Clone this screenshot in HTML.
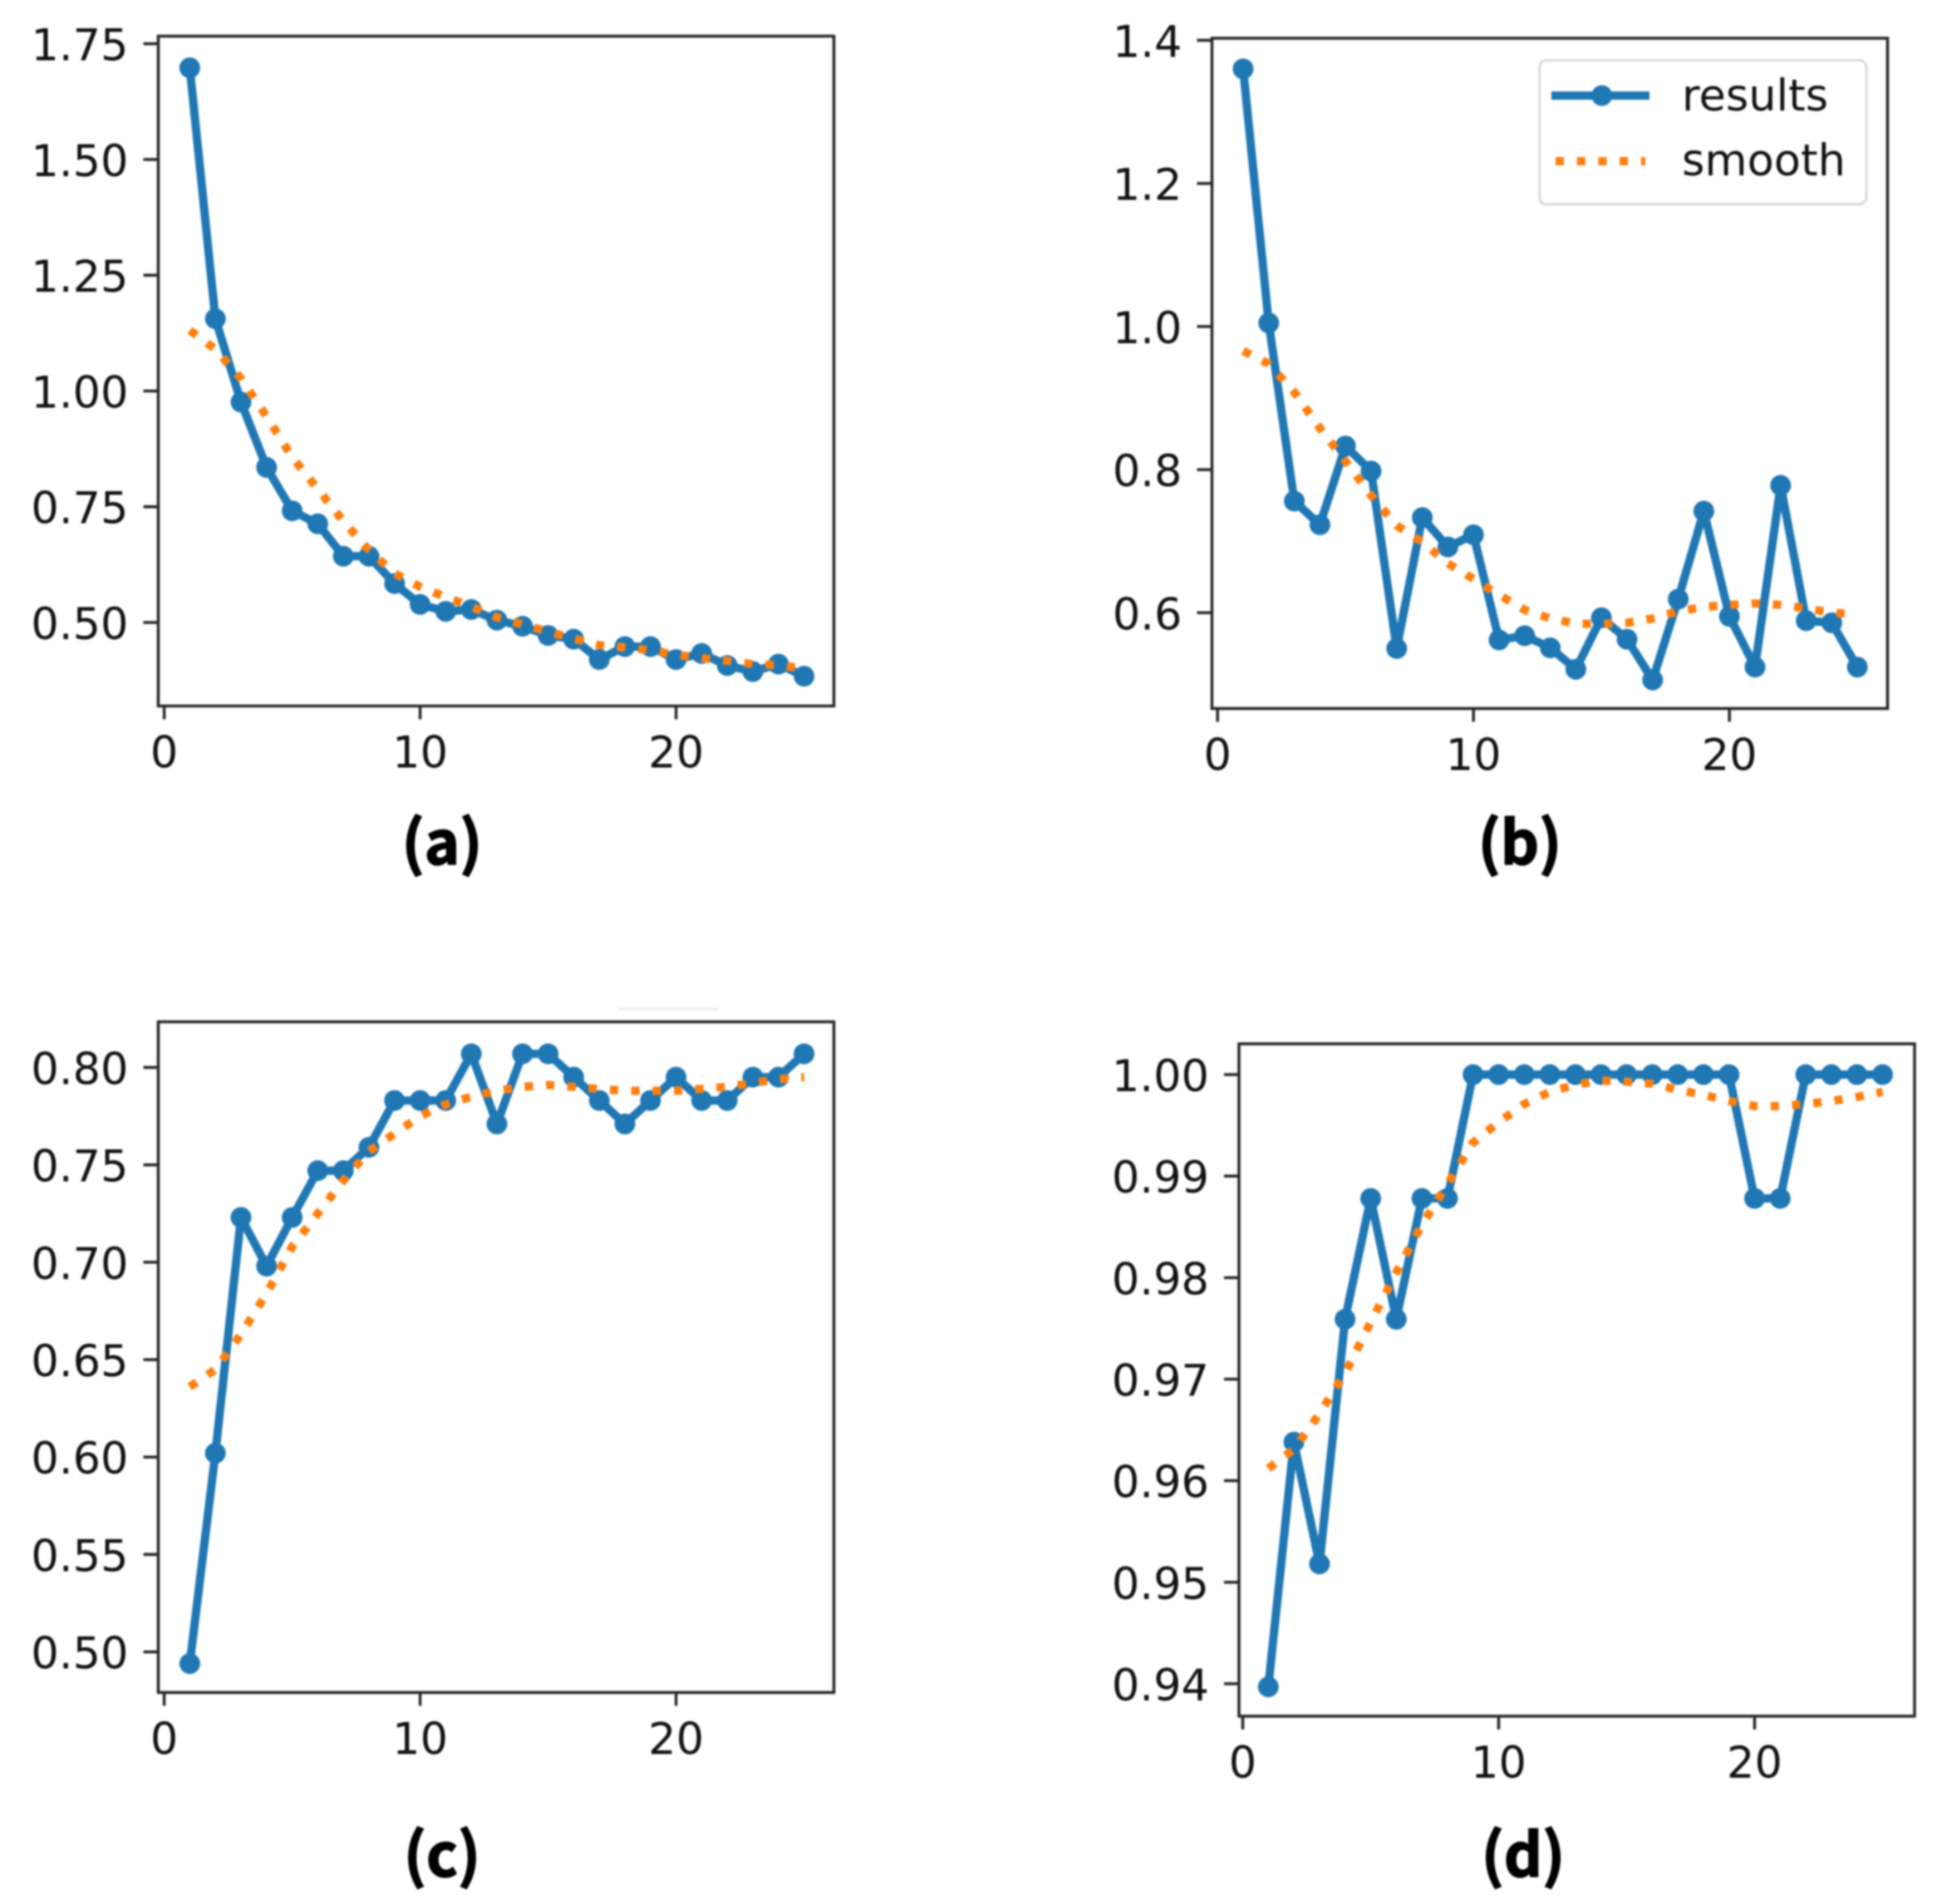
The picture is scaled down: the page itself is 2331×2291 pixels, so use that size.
<!DOCTYPE html>
<html><head><meta charset="utf-8"><title>Four training curves</title>
<style>
html,body{margin:0;padding:0;background:#fff;width:2331px;height:2291px;overflow:hidden}
svg{display:block;filter:blur(1px)}
.tick{font:52.6px "DejaVu Sans",sans-serif;fill:#111}
.cap{font:700 72px "Noto Sans CJK JP","Liberation Sans",sans-serif;fill:#000;stroke:#000;stroke-width:1.6px;text-anchor:middle}
</style></head>
<body>
<svg id="fig" xmlns="http://www.w3.org/2000/svg" width="2331" height="2291" viewBox="0 0 2331 2291">
<rect x="745" y="1213" width="120" height="2" fill="#e4e4e4"/>
</svg>
<script>
const epochs = [1,2,3,4,5,6,7,8,9,10,11,12,13,14,15,16,17,18,19,20,21,22,23,24,25];
const xTickValues = [0,10,20];

const resultsA = [1.698,1.156,0.976,0.835,0.741,0.713,0.643,0.643,0.584,0.539,0.524,0.528,0.505,0.492,0.472,0.464,0.42,0.448,0.448,0.42,0.433,0.407,0.394,0.41,0.384];
const smoothA = [1.131,1.09,1.027,0.945,0.857,0.788,0.719,0.656,0.606,0.577,0.555,0.534,0.511,0.496,0.48,0.465,0.451,0.446,0.44,0.43,0.423,0.417,0.41,0.408,0.40];
const yTicksA = ["0.50","0.75","1.00","1.25","1.50","1.75"];

const resultsB = [1.36,1.005,0.756,0.723,0.833,0.798,0.55,0.733,0.692,0.709,0.562,0.568,0.551,0.521,0.593,0.563,0.506,0.619,0.742,0.595,0.524,0.778,0.589,0.586,0.524];
const smoothB = [0.966,0.948,0.908,0.858,0.812,0.764,0.722,0.699,0.669,0.647,0.625,0.604,0.592,0.585,0.584,0.586,0.592,0.602,0.608,0.611,0.613,0.611,0.606,0.60,0.598];
const yTicksB = ["0.6","0.8","1.0","1.2","1.4"];

const resultsC = [0.494,0.602,0.723,0.698,0.723,0.747,0.747,0.759,0.783,0.783,0.783,0.807,0.771,0.807,0.807,0.795,0.783,0.771,0.783,0.795,0.783,0.783,0.795,0.795,0.807];
const smoothC = [0.636,0.645,0.663,0.684,0.708,0.725,0.742,0.757,0.766,0.775,0.781,0.785,0.788,0.790,0.791,0.790,0.789,0.788,0.788,0.788,0.789,0.790,0.792,0.794,0.795];
const yTicksC = ["0.50","0.55","0.60","0.65","0.70","0.75","0.80"];

const resultsD = [0.9397,0.9638,0.9518,0.9759,0.9878,0.9759,0.9878,0.9878,1,1,1,1,1,1,1,1,1,1,1,0.9878,0.9878,1,1,1,1];
const smoothD = [0.9612,0.9631,0.9666,0.9706,0.9756,0.9805,0.9852,0.9892,0.9933,0.9953,0.9971,0.9983,0.9990,0.9994,0.9993,0.9991,0.9985,0.998,0.9974,0.9969,0.9969,0.9971,0.9974,0.9978,0.9983];
const yTicksD = ["0.94","0.95","0.96","0.97","0.98","0.99","1.00"];

const NS = 'http://www.w3.org/2000/svg';
const fig = document.getElementById('fig');
const BLUE = '#1f77b4', ORANGE = '#ff7f0e', FRAME = '#262626';
const LINE_W = 10, MARK_R = 12.5, DOT_W = 10, DOT_DASH = '10 15.7';

function make(tag, props, parent) {
  const el = document.createElementNS(NS, tag);
  for (const k in props) el.setAttribute(k, props[k]);
  (parent || fig).appendChild(el);
  return el;
}

function drawPanel(cfg) {
  const xScale = v => cfg.x0 + (v - 0) * (cfg.x20 - cfg.x0) / 20;
  const yLowVal = parseFloat(cfg.yTicks[0]);
  const yHighVal = parseFloat(cfg.yTicks[cfg.yTicks.length - 1]);
  const yScale = v => cfg.yLow + (v - yLowVal) * (cfg.yHigh - cfg.yLow) / (yHighVal - yLowVal);

  const g = make('g', {});
  
  

  const pts = (vals) => vals.map((v, i) => xScale(epochs[i]).toFixed(1) + ',' + yScale(v).toFixed(1)).join(' ');

  const line = make('polyline', {points: pts(cfg.results), fill: 'none', stroke: BLUE, 'stroke-width': LINE_W, 'stroke-linejoin': 'round'}, g);
  
  

  cfg.results.forEach((v, i) => {
    const c = make('circle', {cx: xScale(epochs[i]).toFixed(1), cy: yScale(v).toFixed(1), r: MARK_R, fill: BLUE}, g);
    
    
  });

  const sm = make('polyline', {points: pts(cfg.smooth), fill: 'none', stroke: ORANGE, 'stroke-width': DOT_W, 'stroke-dasharray': DOT_DASH}, g);
  
  

  const frame = make('rect', {x: cfg.left, y: cfg.top, width: cfg.right - cfg.left, height: cfg.bottom - cfg.top, fill: 'none', stroke: FRAME, 'stroke-width': 3.5}, g);
  
  

  xTickValues.forEach(v => {
    const x = xScale(v);
    const t = make('line', {x1: x, x2: x, y1: cfg.bottom, y2: cfg.bottom + 16, stroke: FRAME, 'stroke-width': 3.5}, g);
    
    
    const l = make('text', {x: x, y: cfg.bottom + 74, class: 'tick', 'text-anchor': 'middle'}, g);
    l.textContent = String(v);
    
    
  });

  cfg.yTicks.forEach(s => {
    const y = yScale(parseFloat(s));
    const t = make('line', {x1: cfg.left - 18, x2: cfg.left, y1: y, y2: y, stroke: FRAME, 'stroke-width': 3.5}, g);
    
    
    const l = make('text', {x: cfg.left - 36, y: y + 20, class: 'tick', 'text-anchor': 'end'}, g);
    l.textContent = s;
    
    
  });

  const cap = make('text', {x: cfg.capX, y: cfg.capY, class: 'cap'}, g);
  cap.textContent = '(' + cfg.id + ')';
  
  
}

drawPanel({id:'a', results:resultsA, smooth:smoothA, yTicks:yTicksA, left:190.5, right:1003.5, top:43.5, bottom:849.5, x0:197.6, x20:813.6, yLow:749, yHigh:52.6, capX:532, capY:1040});
drawPanel({id:'b', results:resultsB, smooth:smoothB, yTicks:yTicksB, left:1458.5, right:2271.5, top:46, bottom:852.5, x0:1465.2, x20:2081.2, yLow:737.3, yHigh:48.5, capX:1829, capY:1040});
drawPanel({id:'c', results:resultsC, smooth:smoothC, yTicks:yTicksC, left:190.5, right:1003.5, top:1229.5, bottom:2036.5, x0:197.6, x20:813.6, yLow:1987.6, yHigh:1284.4, capX:532, capY:2258});
drawPanel({id:'d', results:resultsD, smooth:smoothD, yTicks:yTicksD, left:1491, right:2304, top:1256, bottom:2065, x0:1495.5, x20:2111.5, yLow:2026, yHigh:1293, capX:1833, capY:2258});

const legend = make('g', {});



const legendBox = make('rect', {x: 1852.7, y: 72.7, width: 393.3, height: 173, rx: 8, fill: '#fff', 'fill-opacity': 0.85, stroke: '#d9d9d9', 'stroke-width': 3}, legend);



const legendLine = make('line', {x1: 1867, x2: 1985, y1: 115, y2: 115, stroke: BLUE, 'stroke-width': LINE_W}, legend);



const legendDot = make('circle', {cx: 1927.7, cy: 115, r: MARK_R, fill: BLUE}, legend);



const legendText1 = make('text', {x: 2024, y: 133, class: 'tick'}, legend);
legendText1.textContent = 'results';



const legendSmooth = make('line', {x1: 1872, x2: 1980, y1: 194, y2: 194, stroke: ORANGE, 'stroke-width': DOT_W, 'stroke-dasharray': DOT_DASH}, legend);



const legendText2 = make('text', {x: 2024, y: 211, class: 'tick'}, legend);
legendText2.textContent = 'smooth';


</script>
</body></html>
